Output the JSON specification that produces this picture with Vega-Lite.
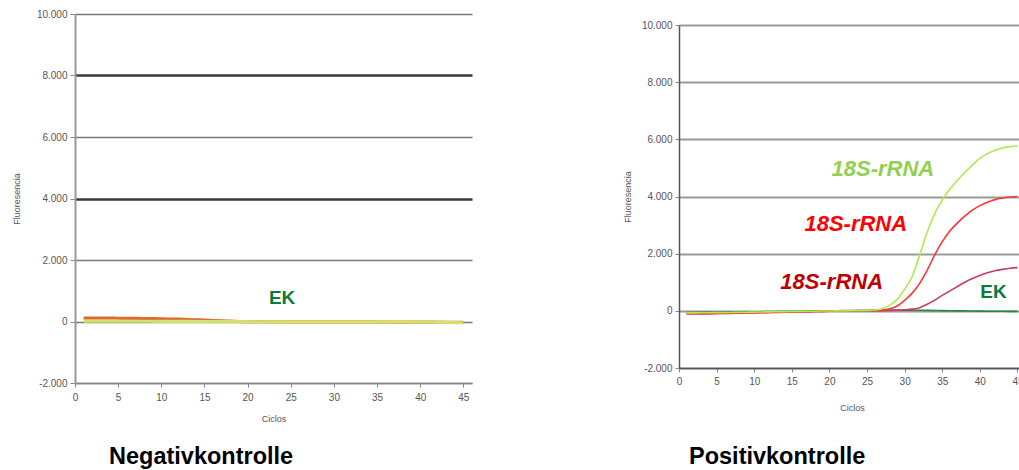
{
  "$schema": "https://vega.github.io/schema/vega-lite/v6.json",
  "background": "white",
  "padding": {"left": 12, "top": 9, "right": 0, "bottom": 0},
  "spacing": 151,
  "config": {
    "view": {"stroke": null},
    "font": "Liberation Sans",
    "axis": {
      "labelFont": "Liberation Sans", "titleFont": "Liberation Sans",
      "labelFontSize": 10, "labelColor": "#555", "titleFontSize": 9,
      "titleFontWeight": "normal", "titleColor": "#555",
      "domainColor": "#888", "domainWidth": 1.5, "tickColor": "#888", "tickWidth": 1,
      "labelFlush": false, "labelOverlap": false
    }
  },
  "datasets": {
    "neg": [
      {"cycle":1,"fluorescence":110,"series":"NTC 1"},{"cycle":2,"fluorescence":110,"series":"NTC 1"},{"cycle":3,"fluorescence":110,"series":"NTC 1"},{"cycle":4,"fluorescence":108,"series":"NTC 1"},{"cycle":5,"fluorescence":105,"series":"NTC 1"},{"cycle":6,"fluorescence":102,"series":"NTC 1"},{"cycle":7,"fluorescence":100,"series":"NTC 1"},{"cycle":8,"fluorescence":97,"series":"NTC 1"},{"cycle":9,"fluorescence":93,"series":"NTC 1"},{"cycle":10,"fluorescence":88,"series":"NTC 1"},{"cycle":11,"fluorescence":82,"series":"NTC 1"},{"cycle":12,"fluorescence":75,"series":"NTC 1"},{"cycle":13,"fluorescence":65,"series":"NTC 1"},{"cycle":14,"fluorescence":55,"series":"NTC 1"},{"cycle":15,"fluorescence":45,"series":"NTC 1"},{"cycle":16,"fluorescence":32,"series":"NTC 1"},{"cycle":17,"fluorescence":20,"series":"NTC 1"},{"cycle":18,"fluorescence":10,"series":"NTC 1"},{"cycle":19,"fluorescence":0,"series":"NTC 1"},{"cycle":20,"fluorescence":-5,"series":"NTC 1"},{"cycle":22,"fluorescence":-8,"series":"NTC 1"},{"cycle":25,"fluorescence":-10,"series":"NTC 1"},{"cycle":28,"fluorescence":-12,"series":"NTC 1"},{"cycle":30,"fluorescence":-12,"series":"NTC 1"},{"cycle":33,"fluorescence":-15,"series":"NTC 1"},{"cycle":35,"fluorescence":-15,"series":"NTC 1"},{"cycle":38,"fluorescence":-18,"series":"NTC 1"},{"cycle":40,"fluorescence":-20,"series":"NTC 1"},{"cycle":43,"fluorescence":-25,"series":"NTC 1"},{"cycle":45,"fluorescence":-30,"series":"NTC 1"},
      {"cycle":1,"fluorescence":10,"series":"NTC 2"},{"cycle":3,"fluorescence":10,"series":"NTC 2"},{"cycle":5,"fluorescence":10,"series":"NTC 2"},{"cycle":8,"fluorescence":8,"series":"NTC 2"},{"cycle":10,"fluorescence":5,"series":"NTC 2"},{"cycle":12,"fluorescence":5,"series":"NTC 2"},{"cycle":15,"fluorescence":0,"series":"NTC 2"},{"cycle":18,"fluorescence":-5,"series":"NTC 2"},{"cycle":20,"fluorescence":-5,"series":"NTC 2"},{"cycle":22,"fluorescence":-10,"series":"NTC 2"},{"cycle":25,"fluorescence":-10,"series":"NTC 2"},{"cycle":28,"fluorescence":-15,"series":"NTC 2"},{"cycle":30,"fluorescence":-10,"series":"NTC 2"},{"cycle":33,"fluorescence":-15,"series":"NTC 2"},{"cycle":35,"fluorescence":-10,"series":"NTC 2"},{"cycle":38,"fluorescence":-15,"series":"NTC 2"},{"cycle":40,"fluorescence":-20,"series":"NTC 2"},{"cycle":42,"fluorescence":-25,"series":"NTC 2"},{"cycle":45,"fluorescence":-40,"series":"NTC 2"}
    ],
    "negLabels": [
      {"cycle":24,"fluorescence":758,"label":"EK"}
    ],
    "pos": [
      {"cycle":1,"fluorescence":-60,"series":"EK"},{"cycle":2,"fluorescence":-58,"series":"EK"},{"cycle":3,"fluorescence":-55,"series":"EK"},{"cycle":4,"fluorescence":-52,"series":"EK"},{"cycle":5,"fluorescence":-49,"series":"EK"},{"cycle":6,"fluorescence":-46,"series":"EK"},{"cycle":7,"fluorescence":-43,"series":"EK"},{"cycle":8,"fluorescence":-40,"series":"EK"},{"cycle":9,"fluorescence":-36,"series":"EK"},{"cycle":10,"fluorescence":-33,"series":"EK"},{"cycle":11,"fluorescence":-30,"series":"EK"},{"cycle":12,"fluorescence":-27,"series":"EK"},{"cycle":13,"fluorescence":-24,"series":"EK"},{"cycle":14,"fluorescence":-20,"series":"EK"},{"cycle":15,"fluorescence":-17,"series":"EK"},{"cycle":16,"fluorescence":-14,"series":"EK"},{"cycle":17,"fluorescence":-10,"series":"EK"},{"cycle":18,"fluorescence":-7,"series":"EK"},{"cycle":19,"fluorescence":-4,"series":"EK"},{"cycle":20,"fluorescence":0,"series":"EK"},{"cycle":21,"fluorescence":4,"series":"EK"},{"cycle":22,"fluorescence":8,"series":"EK"},{"cycle":23,"fluorescence":12,"series":"EK"},{"cycle":24,"fluorescence":16,"series":"EK"},{"cycle":25,"fluorescence":20,"series":"EK"},{"cycle":26,"fluorescence":24,"series":"EK"},{"cycle":27,"fluorescence":27,"series":"EK"},{"cycle":28,"fluorescence":28,"series":"EK"},{"cycle":29,"fluorescence":28,"series":"EK"},{"cycle":30,"fluorescence":26,"series":"EK"},{"cycle":31,"fluorescence":23,"series":"EK"},{"cycle":32,"fluorescence":20,"series":"EK"},{"cycle":33,"fluorescence":16,"series":"EK"},{"cycle":34,"fluorescence":12,"series":"EK"},{"cycle":35,"fluorescence":8,"series":"EK"},{"cycle":36,"fluorescence":4,"series":"EK"},{"cycle":37,"fluorescence":0,"series":"EK"},{"cycle":38,"fluorescence":-3,"series":"EK"},{"cycle":39,"fluorescence":-6,"series":"EK"},{"cycle":40,"fluorescence":-9,"series":"EK"},{"cycle":41,"fluorescence":-12,"series":"EK"},{"cycle":42,"fluorescence":-14,"series":"EK"},{"cycle":43,"fluorescence":-16,"series":"EK"},{"cycle":44,"fluorescence":-18,"series":"EK"},{"cycle":45,"fluorescence":-20,"series":"EK"},
      {"cycle":1,"fluorescence":-95,"series":"18S-rRNA niedrig"},{"cycle":2,"fluorescence":-95,"series":"18S-rRNA niedrig"},{"cycle":3,"fluorescence":-93,"series":"18S-rRNA niedrig"},{"cycle":4,"fluorescence":-90,"series":"18S-rRNA niedrig"},{"cycle":5,"fluorescence":-86,"series":"18S-rRNA niedrig"},{"cycle":6,"fluorescence":-82,"series":"18S-rRNA niedrig"},{"cycle":7,"fluorescence":-78,"series":"18S-rRNA niedrig"},{"cycle":8,"fluorescence":-73,"series":"18S-rRNA niedrig"},{"cycle":9,"fluorescence":-68,"series":"18S-rRNA niedrig"},{"cycle":10,"fluorescence":-63,"series":"18S-rRNA niedrig"},{"cycle":11,"fluorescence":-58,"series":"18S-rRNA niedrig"},{"cycle":12,"fluorescence":-53,"series":"18S-rRNA niedrig"},{"cycle":13,"fluorescence":-48,"series":"18S-rRNA niedrig"},{"cycle":14,"fluorescence":-43,"series":"18S-rRNA niedrig"},{"cycle":15,"fluorescence":-38,"series":"18S-rRNA niedrig"},{"cycle":16,"fluorescence":-33,"series":"18S-rRNA niedrig"},{"cycle":17,"fluorescence":-28,"series":"18S-rRNA niedrig"},{"cycle":18,"fluorescence":-23,"series":"18S-rRNA niedrig"},{"cycle":19,"fluorescence":-18,"series":"18S-rRNA niedrig"},{"cycle":20,"fluorescence":-14,"series":"18S-rRNA niedrig"},{"cycle":21,"fluorescence":-10,"series":"18S-rRNA niedrig"},{"cycle":22,"fluorescence":-6,"series":"18S-rRNA niedrig"},{"cycle":23,"fluorescence":-3,"series":"18S-rRNA niedrig"},{"cycle":24,"fluorescence":0,"series":"18S-rRNA niedrig"},{"cycle":25,"fluorescence":2,"series":"18S-rRNA niedrig"},{"cycle":26,"fluorescence":5,"series":"18S-rRNA niedrig"},{"cycle":27,"fluorescence":8,"series":"18S-rRNA niedrig"},{"cycle":28,"fluorescence":12,"series":"18S-rRNA niedrig"},{"cycle":29,"fluorescence":20,"series":"18S-rRNA niedrig"},{"cycle":30,"fluorescence":35,"series":"18S-rRNA niedrig"},{"cycle":31,"fluorescence":60,"series":"18S-rRNA niedrig"},{"cycle":32,"fluorescence":110,"series":"18S-rRNA niedrig"},{"cycle":33,"fluorescence":230,"series":"18S-rRNA niedrig"},{"cycle":34,"fluorescence":375,"series":"18S-rRNA niedrig"},{"cycle":35,"fluorescence":540,"series":"18S-rRNA niedrig"},{"cycle":36,"fluorescence":690,"series":"18S-rRNA niedrig"},{"cycle":37,"fluorescence":850,"series":"18S-rRNA niedrig"},{"cycle":38,"fluorescence":1000,"series":"18S-rRNA niedrig"},{"cycle":39,"fluorescence":1130,"series":"18S-rRNA niedrig"},{"cycle":40,"fluorescence":1240,"series":"18S-rRNA niedrig"},{"cycle":41,"fluorescence":1330,"series":"18S-rRNA niedrig"},{"cycle":42,"fluorescence":1400,"series":"18S-rRNA niedrig"},{"cycle":43,"fluorescence":1450,"series":"18S-rRNA niedrig"},{"cycle":44,"fluorescence":1490,"series":"18S-rRNA niedrig"},{"cycle":45,"fluorescence":1510,"series":"18S-rRNA niedrig"},
      {"cycle":1,"fluorescence":-110,"series":"18S-rRNA mittel"},{"cycle":2,"fluorescence":-110,"series":"18S-rRNA mittel"},{"cycle":3,"fluorescence":-108,"series":"18S-rRNA mittel"},{"cycle":4,"fluorescence":-105,"series":"18S-rRNA mittel"},{"cycle":5,"fluorescence":-100,"series":"18S-rRNA mittel"},{"cycle":6,"fluorescence":-95,"series":"18S-rRNA mittel"},{"cycle":7,"fluorescence":-90,"series":"18S-rRNA mittel"},{"cycle":8,"fluorescence":-84,"series":"18S-rRNA mittel"},{"cycle":9,"fluorescence":-78,"series":"18S-rRNA mittel"},{"cycle":10,"fluorescence":-72,"series":"18S-rRNA mittel"},{"cycle":11,"fluorescence":-66,"series":"18S-rRNA mittel"},{"cycle":12,"fluorescence":-60,"series":"18S-rRNA mittel"},{"cycle":13,"fluorescence":-54,"series":"18S-rRNA mittel"},{"cycle":14,"fluorescence":-48,"series":"18S-rRNA mittel"},{"cycle":15,"fluorescence":-42,"series":"18S-rRNA mittel"},{"cycle":16,"fluorescence":-36,"series":"18S-rRNA mittel"},{"cycle":17,"fluorescence":-30,"series":"18S-rRNA mittel"},{"cycle":18,"fluorescence":-25,"series":"18S-rRNA mittel"},{"cycle":19,"fluorescence":-20,"series":"18S-rRNA mittel"},{"cycle":20,"fluorescence":-15,"series":"18S-rRNA mittel"},{"cycle":21,"fluorescence":-10,"series":"18S-rRNA mittel"},{"cycle":22,"fluorescence":-6,"series":"18S-rRNA mittel"},{"cycle":23,"fluorescence":-3,"series":"18S-rRNA mittel"},{"cycle":24,"fluorescence":0,"series":"18S-rRNA mittel"},{"cycle":25,"fluorescence":4,"series":"18S-rRNA mittel"},{"cycle":26,"fluorescence":10,"series":"18S-rRNA mittel"},{"cycle":27,"fluorescence":22,"series":"18S-rRNA mittel"},{"cycle":28,"fluorescence":70,"series":"18S-rRNA mittel"},{"cycle":29,"fluorescence":170,"series":"18S-rRNA mittel"},{"cycle":30,"fluorescence":370,"series":"18S-rRNA mittel"},{"cycle":31,"fluorescence":620,"series":"18S-rRNA mittel"},{"cycle":32,"fluorescence":960,"series":"18S-rRNA mittel"},{"cycle":33,"fluorescence":1420,"series":"18S-rRNA mittel"},{"cycle":34,"fluorescence":1960,"series":"18S-rRNA mittel"},{"cycle":35,"fluorescence":2420,"series":"18S-rRNA mittel"},{"cycle":36,"fluorescence":2790,"series":"18S-rRNA mittel"},{"cycle":37,"fluorescence":3070,"series":"18S-rRNA mittel"},{"cycle":38,"fluorescence":3310,"series":"18S-rRNA mittel"},{"cycle":39,"fluorescence":3520,"series":"18S-rRNA mittel"},{"cycle":40,"fluorescence":3680,"series":"18S-rRNA mittel"},{"cycle":41,"fluorescence":3800,"series":"18S-rRNA mittel"},{"cycle":42,"fluorescence":3890,"series":"18S-rRNA mittel"},{"cycle":43,"fluorescence":3945,"series":"18S-rRNA mittel"},{"cycle":44,"fluorescence":3980,"series":"18S-rRNA mittel"},{"cycle":45,"fluorescence":4000,"series":"18S-rRNA mittel"},
      {"cycle":1,"fluorescence":-70,"series":"18S-rRNA hoch"},{"cycle":2,"fluorescence":-70,"series":"18S-rRNA hoch"},{"cycle":3,"fluorescence":-68,"series":"18S-rRNA hoch"},{"cycle":4,"fluorescence":-66,"series":"18S-rRNA hoch"},{"cycle":5,"fluorescence":-63,"series":"18S-rRNA hoch"},{"cycle":6,"fluorescence":-60,"series":"18S-rRNA hoch"},{"cycle":7,"fluorescence":-56,"series":"18S-rRNA hoch"},{"cycle":8,"fluorescence":-52,"series":"18S-rRNA hoch"},{"cycle":9,"fluorescence":-48,"series":"18S-rRNA hoch"},{"cycle":10,"fluorescence":-44,"series":"18S-rRNA hoch"},{"cycle":11,"fluorescence":-40,"series":"18S-rRNA hoch"},{"cycle":12,"fluorescence":-36,"series":"18S-rRNA hoch"},{"cycle":13,"fluorescence":-32,"series":"18S-rRNA hoch"},{"cycle":14,"fluorescence":-28,"series":"18S-rRNA hoch"},{"cycle":15,"fluorescence":-24,"series":"18S-rRNA hoch"},{"cycle":16,"fluorescence":-20,"series":"18S-rRNA hoch"},{"cycle":17,"fluorescence":-16,"series":"18S-rRNA hoch"},{"cycle":18,"fluorescence":-12,"series":"18S-rRNA hoch"},{"cycle":19,"fluorescence":-8,"series":"18S-rRNA hoch"},{"cycle":20,"fluorescence":-4,"series":"18S-rRNA hoch"},{"cycle":21,"fluorescence":-2,"series":"18S-rRNA hoch"},{"cycle":22,"fluorescence":0,"series":"18S-rRNA hoch"},{"cycle":23,"fluorescence":2,"series":"18S-rRNA hoch"},{"cycle":24,"fluorescence":6,"series":"18S-rRNA hoch"},{"cycle":25,"fluorescence":14,"series":"18S-rRNA hoch"},{"cycle":26,"fluorescence":30,"series":"18S-rRNA hoch"},{"cycle":27,"fluorescence":75,"series":"18S-rRNA hoch"},{"cycle":28,"fluorescence":190,"series":"18S-rRNA hoch"},{"cycle":29,"fluorescence":400,"series":"18S-rRNA hoch"},{"cycle":30,"fluorescence":760,"series":"18S-rRNA hoch"},{"cycle":31,"fluorescence":1200,"series":"18S-rRNA hoch"},{"cycle":32,"fluorescence":1950,"series":"18S-rRNA hoch"},{"cycle":33,"fluorescence":2760,"series":"18S-rRNA hoch"},{"cycle":34,"fluorescence":3400,"series":"18S-rRNA hoch"},{"cycle":35,"fluorescence":3880,"series":"18S-rRNA hoch"},{"cycle":36,"fluorescence":4250,"series":"18S-rRNA hoch"},{"cycle":37,"fluorescence":4560,"series":"18S-rRNA hoch"},{"cycle":38,"fluorescence":4840,"series":"18S-rRNA hoch"},{"cycle":39,"fluorescence":5100,"series":"18S-rRNA hoch"},{"cycle":40,"fluorescence":5330,"series":"18S-rRNA hoch"},{"cycle":41,"fluorescence":5500,"series":"18S-rRNA hoch"},{"cycle":42,"fluorescence":5620,"series":"18S-rRNA hoch"},{"cycle":43,"fluorescence":5700,"series":"18S-rRNA hoch"},{"cycle":44,"fluorescence":5745,"series":"18S-rRNA hoch"},{"cycle":45,"fluorescence":5765,"series":"18S-rRNA hoch"}
    ],
    "posLabels": [
      {"cycle":27.1,"fluorescence":4967,"label":"18S-rRNA","series":"18S-rRNA hoch"},
      {"cycle":23.5,"fluorescence":3044,"label":"18S-rRNA","series":"18S-rRNA mittel"},
      {"cycle":20.3,"fluorescence":1000,"label":"18S-rRNA","series":"18S-rRNA niedrig"},
      {"cycle":41.8,"fluorescence":650,"label":"EK","series":"EK"}
    ]
  },
  "hconcat": [
    {
      "width": 397,
      "height": 369,
      "title": {"text": "Negativkontrolle", "orient": "bottom", "anchor": "start", "frame": "group", "dx": 34, "offset": 22, "font": "Liberation Sans", "fontSize": 23.5, "fontWeight": "bold", "color": "#000"},
      "encoding": {
        "x": {"field": "cycle", "type": "quantitative", "title": "Ciclos",
          "scale": {"domain": [0, 46], "nice": false, "zero": false},
          "axis": {"values": [0,5,10,15,20,25,30,35,40,45], "grid": false, "tickSize": 4, "labelPadding": 5, "titlePadding": 12}},
        "y": {"field": "fluorescence", "type": "quantitative", "title": "Fluoresencia",
          "scale": {"domain": [-2000, 10000], "nice": false},
          "axis": {"values": [-2000,0,2000,4000,6000,8000,10000], "grid": true,
            "gridColor": {"condition": {"test": "datum.value === 8000 || datum.value === 4000", "value": "#3a3a3a"}, "value": "#7a7a7a"},
            "gridWidth": {"condition": {"test": "datum.value === 8000 || datum.value === 4000", "value": 2.5}, "value": 1.5},
            "domainColor": "#999", "domainWidth": 2, "tickSize": 5, "labelPadding": 3,
            "labelExpr": "replace(replace(format(datum.value, ','), ',', '.'), '−', '-')",
            "titleX": -59, "titleBaseline": "middle"}}
      },
      "layer": [
        {"data": {"name": "neg"},
         "mark": {"type": "line", "strokeWidth": 3.2, "interpolate": "monotone"},
         "encoding": {"color": {"field": "series", "type": "nominal", "scale": {"domain": ["NTC 1", "NTC 2"], "range": ["#dd6a30", "#d4e06a"]}, "legend": null}}},
        {"data": {"name": "negLabels"},
         "mark": {"type": "text", "font": "Liberation Sans", "fontSize": 19, "fontWeight": "bold", "align": "center", "baseline": "middle"},
         "encoding": {"text": {"field": "label"}, "color": {"field": "label", "type": "nominal", "scale": {"domain": ["EK"], "range": ["#0a7a38"]}, "legend": null}}}
      ],
      "resolve": {"scale": {"color": "independent"}}
    },
    {
      "width": 346,
      "height": 354,
      "title": {"text": "Positivkontrolle", "orient": "bottom", "anchor": "start", "frame": "group", "dx": 10, "offset": 33, "font": "Liberation Sans", "fontSize": 23.5, "fontWeight": "bold", "color": "#000"},
      "encoding": {
        "x": {"field": "cycle", "type": "quantitative", "title": "Ciclos",
          "scale": {"domain": [0, 46], "nice": false, "zero": false},
          "axis": {"values": [0,5,10,15,20,25,30,35,40,45], "grid": false, "tickSize": 4, "labelPadding": 4, "titlePadding": 17, "domainColor": "#555"}},
        "y": {"field": "fluorescence", "type": "quantitative", "title": "Fluoresencia",
          "scale": {"domain": [-2000, 10000], "nice": false, "range": [354, 11]},
          "axis": {"values": [-2000,0,2000,4000,6000,8000,10000], "grid": true,
            "gridColor": "#9a9a9a", "gridWidth": 2,
            "domainColor": "#555", "domainWidth": 1.5, "tickSize": 4, "labelPadding": 3,
            "labelExpr": "replace(replace(format(datum.value, ','), ',', '.'), '−', '-')",
            "titleX": -52, "titleBaseline": "middle"}}
      },
      "layer": [
        {"data": {"name": "pos"},
         "mark": {"type": "line", "strokeWidth": 1.6, "interpolate": "monotone"},
         "encoding": {"color": {"field": "series", "type": "nominal", "scale": {"domain": ["EK", "18S-rRNA niedrig", "18S-rRNA mittel", "18S-rRNA hoch"], "range": ["#228b3b", "#cc3a62", "#ff3434", "#aeea50"]}, "legend": null}}},
        {"data": {"name": "posLabels"},
         "transform": [{"filter": "datum.label !== 'EK'"}],
         "mark": {"type": "text", "font": "Liberation Sans", "fontSize": 22, "fontWeight": "bold", "fontStyle": "italic", "align": "center", "baseline": "middle"},
         "encoding": {"text": {"field": "label"}, "color": {"field": "series", "type": "nominal", "scale": {"domain": ["18S-rRNA hoch", "18S-rRNA mittel", "18S-rRNA niedrig"], "range": ["#92d050", "#ff0000", "#c00000"]}, "legend": null}}},
        {"data": {"name": "posLabels"},
         "transform": [{"filter": "datum.label === 'EK'"}],
         "mark": {"type": "text", "font": "Liberation Sans", "fontSize": 19, "fontWeight": "bold", "align": "center", "baseline": "middle"},
         "encoding": {"text": {"field": "label"}, "color": {"field": "label", "type": "nominal", "scale": {"domain": ["EK"], "range": ["#0a7a38"]}, "legend": null}}}
      ],
      "resolve": {"scale": {"color": "independent"}}
    }
  ]
}
